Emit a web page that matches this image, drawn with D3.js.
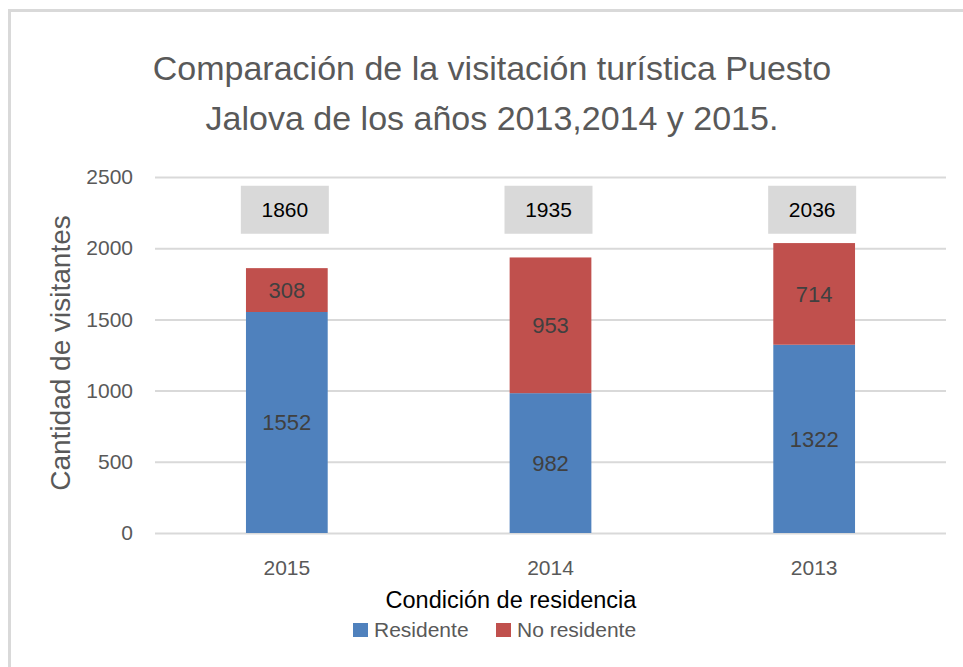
<!DOCTYPE html>
<html>
<head>
<meta charset="utf-8">
<script src="https://cdn.jsdelivr.net/npm/d3@7"></script>
<style>
  body { margin: 0; background: #fff; }
  svg text { font-family: "Liberation Sans Narrow", "Arial Narrow", "Liberation Sans", sans-serif; }
</style>
</head>
<body>
<div class="chart"></div>
<script>
const years = ["2015", "2014", "2013"];
const residente = [1552, 982, 1322];
const noResidente = [308, 953, 714];
const totals = [1860, 1935, 2036];
const yTicks = [0, 500, 1000, 1500, 2000, 2500];
const seriesNames = ["Residente", "No residente"];
const colors = ["#4f81bd", "#c0504d"];

const width = 963, height = 667;
const plot = { left: 155, right: 946, top: 177, bottom: 533 };
const totalLabelValue = 2270;

const svg = d3.select("div.chart").append("svg")
  .attr("width", width).attr("height", height);

// frame (left + top edges only are visible)
svg.append("rect")
  .attr("x", 9.5).attr("y", 10.5)
  .attr("width", 1000).attr("height", 1000)
  .attr("fill", "none").attr("stroke", "#d9d9d9").attr("stroke-width", 3);

const x = d3.scaleBand()
  .domain(years)
  .range([plot.left, plot.right])
  .paddingInner(0.69)
  .paddingOuter(0.345);

const y = d3.scaleLinear()
  .domain([0, 2500])
  .range([plot.bottom, plot.top]);

// y axis with gridlines
const yAxis = svg.append("g")
  .attr("transform", `translate(${plot.left},0)`)
  .call(d3.axisLeft(y).tickValues(yTicks).tickFormat(d3.format("d"))
    .tickSizeInner(-(plot.right - plot.left)).tickSizeOuter(0).tickPadding(22));
yAxis.select(".domain").remove();
yAxis.selectAll("line").attr("stroke", "#d9d9d9").attr("stroke-width", 2);
yAxis.selectAll("text").attr("fill", "#595959").style("font-size", "21px");

// x axis
const xAxis = svg.append("g")
  .attr("transform", `translate(0,${plot.bottom})`)
  .call(d3.axisBottom(x).tickSize(0).tickPadding(27));
xAxis.select(".domain").remove();
xAxis.selectAll("text").attr("fill", "#595959").style("font-size", "21px");

// stacked data
const rows = years.map((yr, i) => ({ year: yr, Residente: residente[i], "No residente": noResidente[i] }));
const stack = d3.stack().keys(seriesNames)(rows);

const layers = svg.selectAll("g.layer")
  .data(stack).enter().append("g")
  .attr("class", "layer")
  .attr("fill", (d, i) => colors[i]);

layers.selectAll("rect")
  .data(d => d).enter().append("rect")
  .attr("x", d => x(d.data.year))
  .attr("y", d => y(d[1]))
  .attr("width", x.bandwidth())
  .attr("height", d => y(d[0]) - y(d[1]));

layers.selectAll("text")
  .data(d => d).enter().append("text")
  .attr("x", d => x(d.data.year) + x.bandwidth() / 2)
  .attr("y", d => (y(d[0]) + y(d[1])) / 2)
  .attr("dy", "0.35em")
  .attr("text-anchor", "middle")
  .attr("fill", "#404040")
  .style("font-size", "22px")
  .text(d => d[1] - d[0]);

// total labels in grey boxes
const totalG = svg.selectAll("g.total")
  .data(totals).enter().append("g")
  .attr("class", "total")
  .attr("transform", (d, i) => `translate(${x(years[i]) + x.bandwidth() / 2 - 2},${y(totalLabelValue)})`);
totalG.append("rect")
  .attr("x", -44).attr("y", -24)
  .attr("width", 88).attr("height", 48)
  .attr("fill", "#d9d9d9");
totalG.append("text")
  .attr("text-anchor", "middle")
  .attr("dy", "0.35em")
  .attr("fill", "#000")
  .style("font-size", "21px")
  .text(d => d);

// title
const title = ["Comparación de la visitación turística Puesto", "Jalova de los años 2013,2014 y 2015."];
svg.append("g").selectAll("text")
  .data(title).enter().append("text")
  .attr("x", 492)
  .attr("y", (d, i) => 68 + i * 50)
  .attr("dy", "0.35em")
  .attr("text-anchor", "middle")
  .attr("fill", "#595959")
  .style("font-size", "34px")
  .text(d => d);

// axis titles
svg.append("text")
  .attr("transform", `translate(60,353) rotate(-90)`)
  .attr("dy", "0.35em")
  .attr("text-anchor", "middle")
  .attr("fill", "#595959")
  .style("font-size", "28px")
  .text("Cantidad de visitantes");

svg.append("text")
  .attr("x", 511).attr("y", 600)
  .attr("dy", "0.35em")
  .attr("text-anchor", "middle")
  .attr("fill", "#000")
  .style("font-size", "23.5px")
  .text("Condición de residencia");

// legend
const legend = svg.append("g").attr("transform", "translate(353,630)");
const legendX = [0, 143];
const items = legend.selectAll("g")
  .data(seriesNames).enter().append("g")
  .attr("transform", (d, i) => `translate(${legendX[i]},0)`);
items.append("rect")
  .attr("x", 0).attr("y", -7)
  .attr("width", 15).attr("height", 14)
  .attr("fill", (d, i) => colors[i]);
items.append("text")
  .attr("x", 21).attr("dy", "0.35em")
  .attr("fill", "#595959")
  .style("font-size", "21px")
  .text(d => d);
</script>
</body>
</html>
